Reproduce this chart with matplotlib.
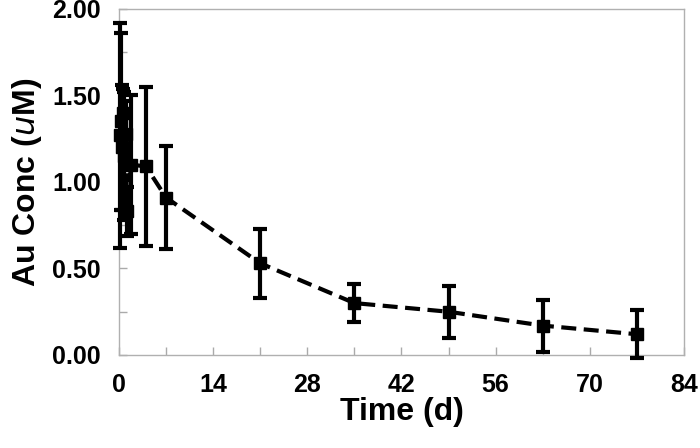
import matplotlib.pyplot as plt
from matplotlib.ticker import MultipleLocator

plt.rcParams['font.family'] = ['Liberation Sans', 'DejaVu Sans']

# time in days, gold concentration (uM) and error
time_d = [0.15, 0.3, 0.4, 0.6, 0.8, 1.0, 1.2, 1.8, 4, 7, 21, 35, 49, 63, 77]
conc = [1.27, 1.35, 1.20, 1.40, 1.15, 1.28, 0.83, 1.10, 1.09, 0.91, 0.53, 0.30, 0.25, 0.17, 0.12]
err = [0.65, 0.51, 0.36, 0.14, 0.37, 0.19, 0.14, 0.40, 0.46, 0.30, 0.20, 0.11, 0.15, 0.15, 0.14]

fig = plt.figure(figsize=(7, 4.48), dpi=100)
ax = fig.add_axes([0.17, 0.2076, 0.807, 0.7724])

ax.errorbar(time_d, conc, yerr=err, fmt='s', color='black', markersize=8,
            elinewidth=3, capsize=5, capthick=3, zorder=3, clip_on=False)
ax.plot(time_d, conc, linestyle=(0, (3.6, 1.8)), color='black', linewidth=3, zorder=2)

ax.set_xlim(0, 84)
ax.set_ylim(0, 2.0)
ax.xaxis.set_major_locator(MultipleLocator(14))
ax.xaxis.set_minor_locator(MultipleLocator(7))
ax.yaxis.set_major_locator(MultipleLocator(0.5))
ax.yaxis.set_minor_locator(MultipleLocator(0.25))
ax.yaxis.set_major_formatter(plt.FormatStrFormatter('%.2f'))

ax.tick_params(which='both', direction='in', color='#aaaaaa', width=1, length=6,
               labelsize=18)
ax.tick_params(axis='x', pad=13)
ax.tick_params(axis='y', pad=13)
for lab in ax.get_xticklabels() + ax.get_yticklabels():
    lab.set_fontweight('bold')
for s in ax.spines.values():
    s.set_color('#b0b0b0')
    s.set_linewidth(1)

ax.set_xlabel('Time (d)', fontsize=23, fontweight='bold', labelpad=0)
ax.set_ylabel('Au Conc ($\\mathbf{\\it{u}}$M)', fontsize=23, fontweight='bold', labelpad=6)

plt.savefig('out.png', dpi=100)
